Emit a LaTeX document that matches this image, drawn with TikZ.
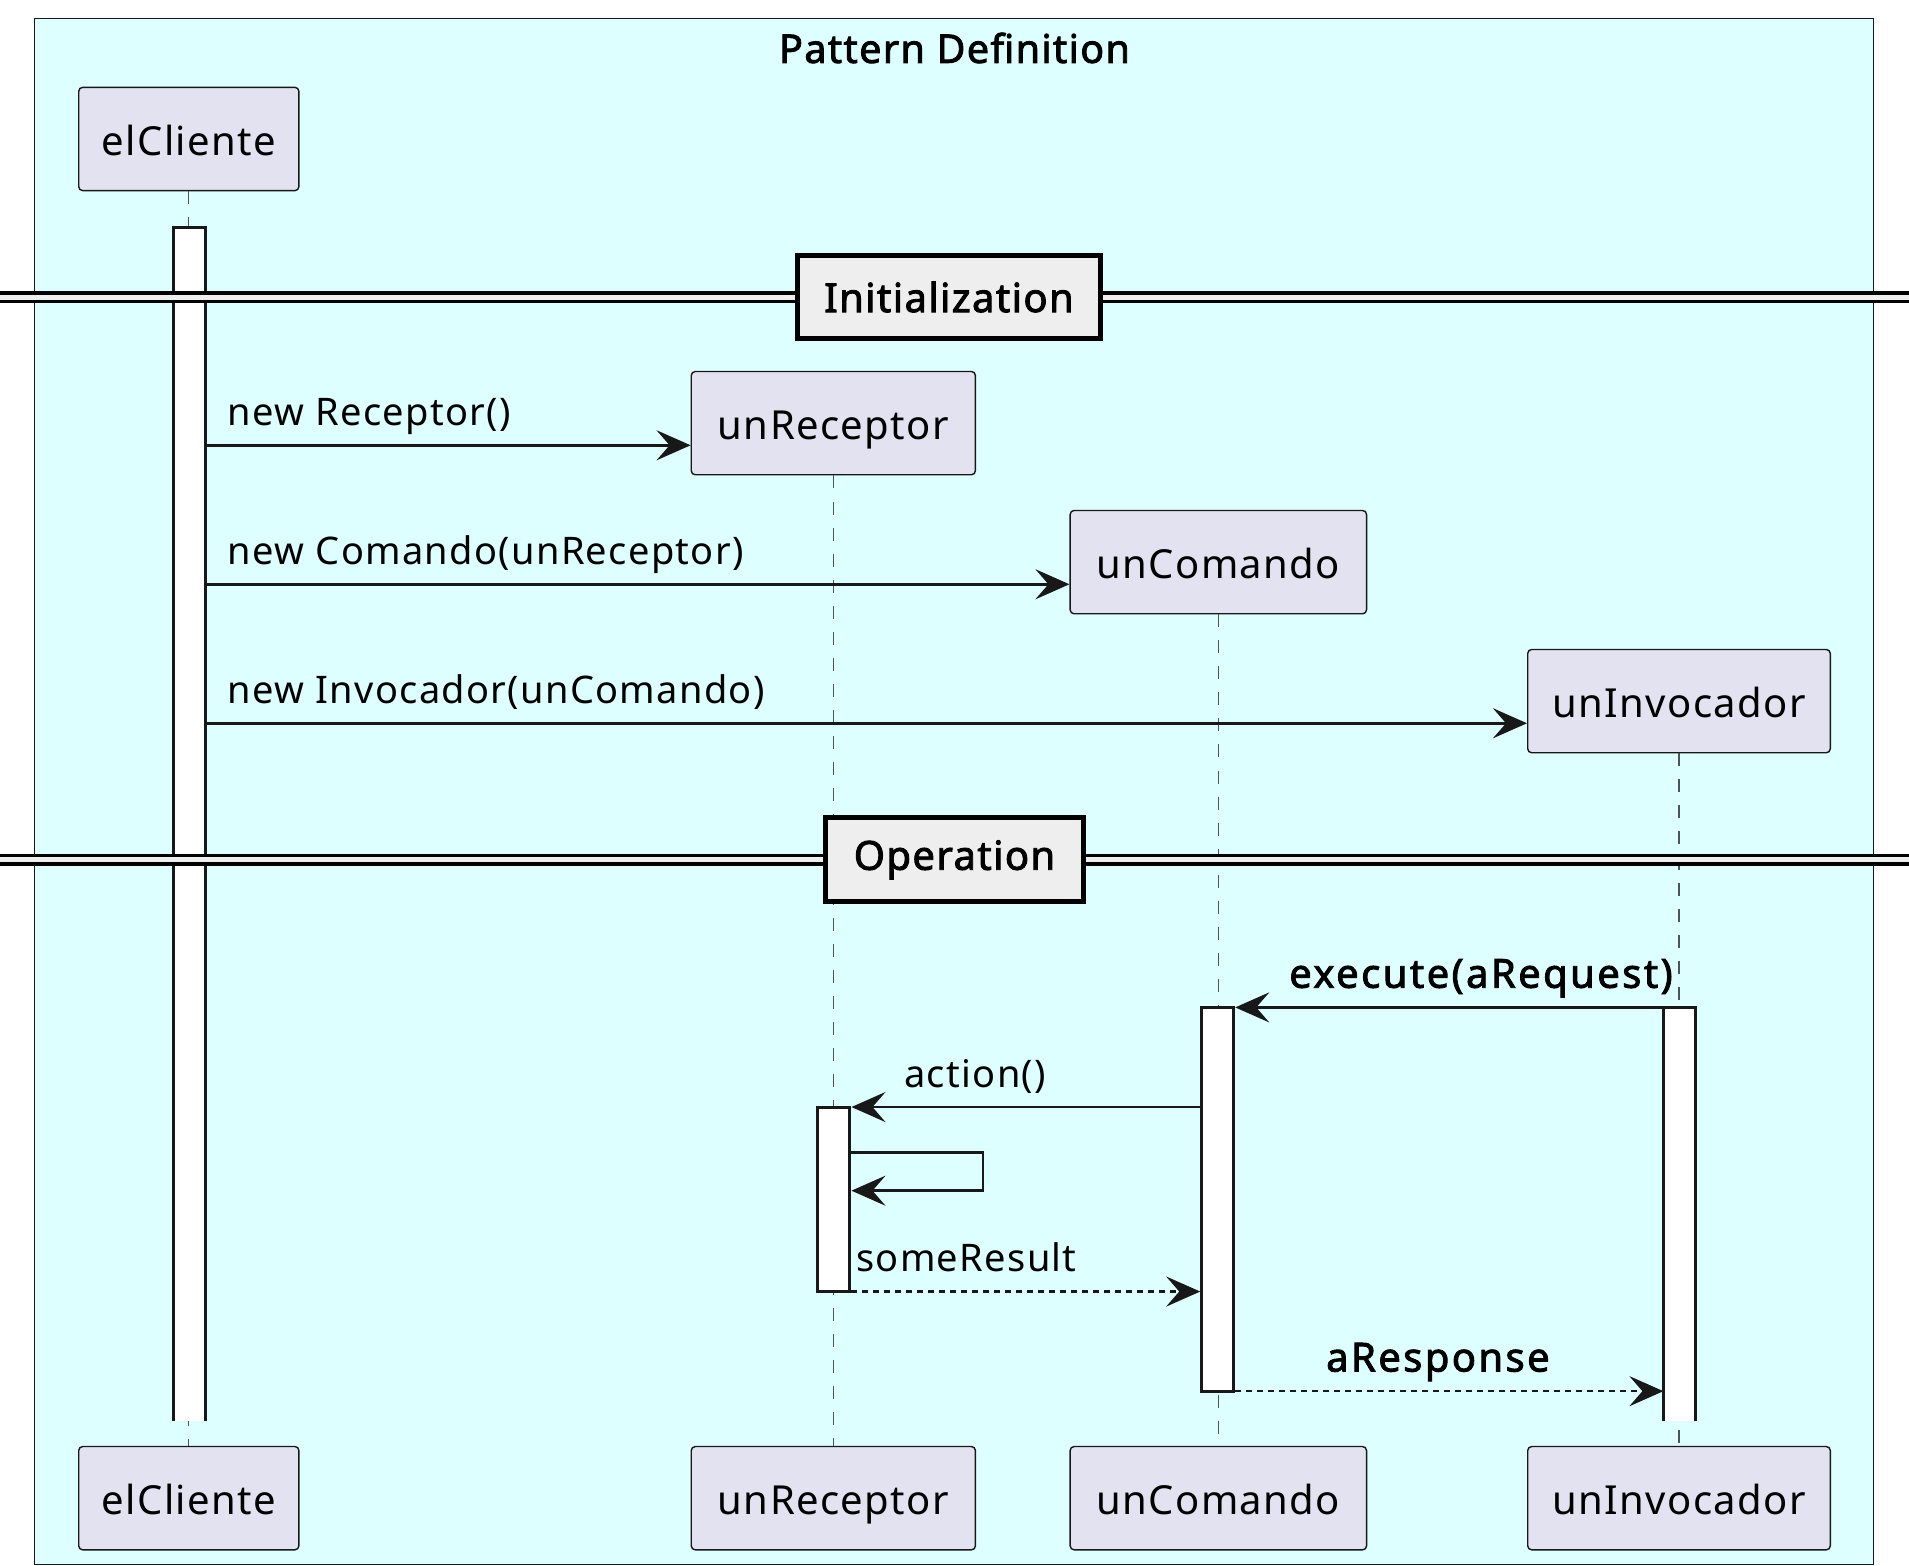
\documentclass[tikz,border=0pt]{standalone}
\usepackage{fontspec}
\setmainfont{Noto Sans}[AutoFakeBold=2.2,LetterSpace=3.5]
\usepackage{tikz}
\usetikzlibrary{arrows.meta,calc}
\definecolor{frameBg}{HTML}{DDFFFF}
\definecolor{partBg}{HTML}{E2E2F0}
\definecolor{sepBg}{HTML}{EEEEEE}
\definecolor{lineCol}{HTML}{181818}

\begin{document}
\begin{tikzpicture}[x=1.23pt,y=-1.23pt,
  part/.style={draw=lineCol,fill=partBg,rounded corners=4pt,line width=1.4pt,minimum height=84*1.23pt,inner sep=0pt,text height=33pt,text depth=0pt,font=\fontsize{40}{48}\selectfont},
  lifeline/.style={draw=lineCol!75,line width=1.3pt,dash pattern=on 13pt off 13pt},
  bar/.style={fill=white,draw=none,minimum width=26*1.23pt,inner sep=0pt},
  barline/.style={draw=lineCol,line width=3pt},
  msg/.style={draw=lineCol,line width=2.6pt,-{Stealth[length=34pt,width=30pt,inset=13pt]}},
  ret/.style={msg,dash pattern=on 6pt off 5pt},
  lbl/.style={font=\fontsize{38}{46}\selectfont,inner sep=0pt,anchor=base west},
  blbl/.style={lbl,font=\fontsize{40}{48}\selectfont\bfseries\addfontfeature{LetterSpace=6}},
  sepline/.style={draw=black,line width=11.6pt,postaction={draw=sepBg,line width=5pt}},
  sepbox/.style={draw=black,fill=sepBg,line width=5pt,minimum height=68*1.23pt,inner sep=0pt,font=\fontsize{40}{48}\selectfont\bfseries}]
\useasboundingbox (0,0) rectangle (1552,1273.1);
\draw[lineCol,line width=1.4pt,fill=frameBg] (28,15) rectangle (1523,1272);
\node[font=\fontsize{39.5}{44}\selectfont\bfseries] (title) at (776,39) {Pattern Definition};

\node[part,minimum width=179*1.23pt] (clienteTop) at (153.5,113) {elCliente};
\node[part,minimum width=231*1.23pt] (receptorTop) at (677.5,344) {unReceptor};
\node[part,minimum width=241*1.23pt] (comandoTop) at (990.5,457) {unComando};
\node[part,minimum width=246*1.23pt] (invocadorTop) at (1365,570) {unInvocador};
\node[part,minimum width=179*1.23pt] (clienteBot) at (153.5,1218) {elCliente};
\node[part,minimum width=231*1.23pt] (receptorBot) at (677.5,1218) {unReceptor};
\node[part,minimum width=241*1.23pt] (comandoBot) at (990.5,1218) {unComando};
\node[part,minimum width=246*1.23pt] (invocadorBot) at (1365,1218) {unInvocador};

\draw[lifeline] (clienteTop) -- (clienteBot);
\draw[lifeline] (receptorTop) -- (receptorBot);
\draw[lifeline] (comandoTop) -- (comandoBot);
\draw[lifeline] (invocadorTop) -- (invocadorBot);

\node[bar,minimum height=970*1.23pt] (actCliente) at (154,670) {};
\draw[barline] (actCliente.south west) -- (actCliente.north west) -- (actCliente.north east) -- (actCliente.south east);
\node[bar,minimum height=336*1.23pt] (actInvocador) at (1365.5,987) {};
\draw[barline] (actInvocador.south west) -- (actInvocador.north west) -- (actInvocador.north east) -- (actInvocador.south east);
\node[bar,barline,minimum height=312*1.23pt] (actComando) at (990,975) {};
\node[bar,barline,minimum height=150*1.23pt] (actReceptor) at (678,975) {};

\coordinate (sepInitL) at (0,241.5);
\coordinate (sepInitR) at (1552,241.5);
\coordinate (sepOpL) at (0,699);
\coordinate (sepOpR) at (1552,699);
\draw[sepline] (sepInitL) -- (sepInitR);
\draw[sepline] (sepOpL) -- (sepOpR);
\node[sepbox,minimum width=247*1.23pt] (initSep) at (771.5,241.5) {Initialization};
\node[sepbox,minimum width=210*1.23pt] (opSep) at (776,699) {Operation};

\coordinate (m1) at (0,362);
\coordinate (m2) at (0,475);
\coordinate (m3) at (0,588);
\coordinate (m4) at (0,819);
\coordinate (m5) at (0,900);
\coordinate (s1) at (0,937);
\coordinate (s2) at (0,968);
\coordinate (m6) at (0,1050);
\coordinate (m7) at (0,1131);

\draw[msg] (actCliente.east |- m1) -- (receptorTop.west |- m1);
\node[lbl] (lblM1) at (185,346) {new Receptor()};
\draw[msg] (actCliente.east |- m2) -- (comandoTop.west |- m2);
\node[lbl] (lblM2) at (185,459) {new Comando(unReceptor)};
\draw[msg] (actCliente.east |- m3) -- (invocadorTop.west |- m3);
\node[lbl] (lblM3) at (185,572) {new Invocador(unComando)};

\draw[msg] (actInvocador.west |- m4) -- (actComando.east |- m4);
\node[blbl] (lblM4) at (1048,803) {execute(aRequest)};
\draw[msg] (actComando.west |- m5) -- (actReceptor.east |- m5);
\node[lbl] (lblM5) at (735,884) {action()};
\draw[msg] (actReceptor.east |- s1) -- ++(107,0) |- (actReceptor.east |- s2);
\draw[ret] (actReceptor.east |- m6) -- (actComando.west |- m6);
\node[lbl] (lblM6) at (696,1034) {someResult};
\draw[ret] (actComando.east |- m7) -- (actInvocador.west |- m7);
\node[blbl] (lblM7) at (1078,1115) {aResponse};
\end{tikzpicture}
\end{document}
